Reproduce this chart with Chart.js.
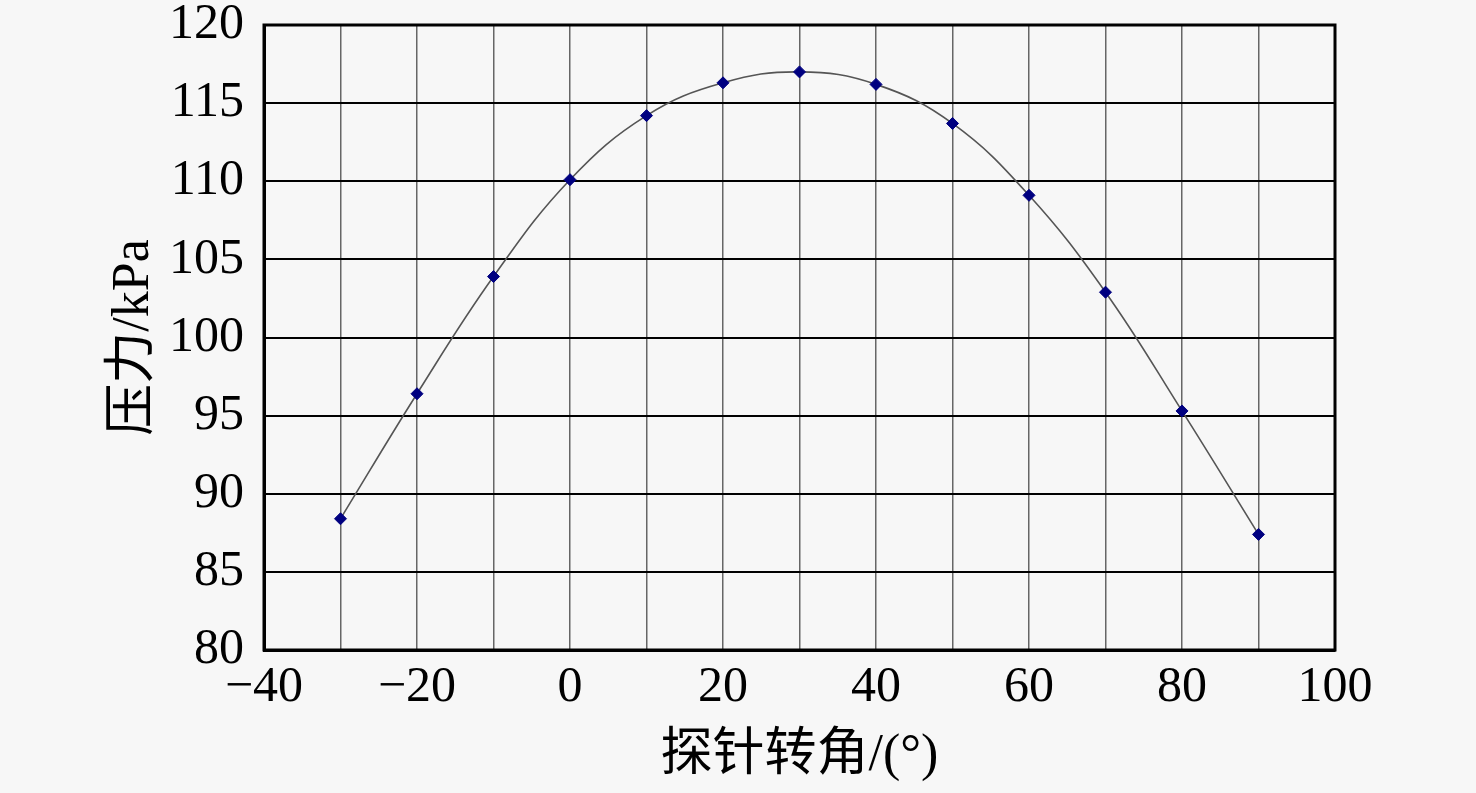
<!DOCTYPE html>
<html>
<head>
<meta charset="utf-8">
<script src="https://cdn.jsdelivr.net/npm/chart.js@4.4.0/dist/chart.umd.min.js"></script>
<style>
  body { margin: 0; background: #f7f7f7; }
  #wrap { width: 1476px; height: 793px; position: relative; }
</style>
</head>
<body>
<div id="wrap"><canvas id="grafico_pressao"></canvas></div>
<script>
// dados
const angulos = [-30, -20, -10, 0, 10, 20, 30, 40, 50, 60, 70, 80, 90]
const pressoes = [88.4, 96.4, 103.9, 110.1, 114.2, 116.3, 117.0, 116.2, 113.7, 109.1, 102.9, 95.3, 87.4]
const ticksX = [-40, -20, 0, 20, 40, 60, 80, 100]
const ticksY = [80, 85, 90, 95, 100, 105, 110, 115, 120]

const fonteNum = "'Liberation Serif', 'Times New Roman', serif"
const fonteTitulo = "'Liberation Serif', 'Noto Sans CJK SC', serif"

// moldura preta em volta da area do grafico
const moldura = {
    id: 'moldura',
    afterDraw(chart) {
        const { ctx, chartArea: a } = chart
        ctx.save()
        ctx.strokeStyle = '#000'
        ctx.lineWidth = 3
        ctx.strokeRect(a.left, a.top, a.right - a.left, a.bottom - a.top)
        ctx.restore()
    }
}

const prepararDados = () => {
    const data = angulos.map((a, i) => ({ x: a, y: pressoes[i] }))
    return {
        datasets: [{
            label: '',
            data,
            borderColor: '#555',
            borderWidth: 1.6,
            tension: 0.4,
            pointStyle: 'rectRot',
            pointRadius: 6,
            pointBackgroundColor: '#000080',
            pointBorderColor: '#000080',
            pointBorderWidth: 1
        }]
    }
}

const criarGrafico = () => {
    const ctx = document.querySelector('#grafico_pressao')

    new Chart(ctx, {
        type: 'line',
        data: prepararDados(),
        plugins: [moldura],
        options: {
            responsive: true,
            maintainAspectRatio: false,
            animation: false,
            layout: { padding: { top: 25, right: 141, left: 0, bottom: 0 } },
            plugins: {
                legend: { display: false },
                tooltip: { enabled: false }
            },
            scales: {
                x: {
                    type: 'linear',
                    min: -40,
                    max: 100,
                    afterFit: (s) => {
                        s.height = 143
                        s.paddingLeft = 0
                        s.paddingRight = 0
                    },
                    ticks: {
                        stepSize: 10,
                        autoSkip: false,
                        maxRotation: 0,
                        padding: 8,
                        color: '#000',
                        font: { family: fonteNum, size: 50 },
                        callback: (v) => ticksX.includes(v) ? String(v).replace('-', '\u2212') : ''
                    },
                    grid: { color: '#666', lineWidth: 1.5, drawTicks: false },
                    border: { display: true, color: '#000', width: 3 },
                    title: {
                        display: true,
                        text: '探针转角/(°)',
                        color: '#000',
                        font: { family: fonteTitulo, size: 52 },
                        padding: { top: 0, bottom: 5 }
                    }
                },
                y: {
                    min: 80,
                    max: 120,
                    afterFit: (s) => {
                        s.width = 264
                        s.paddingTop = 0
                        s.paddingBottom = 0
                    },
                    afterBuildTicks: (s) => { s.ticks = ticksY.map(v => ({ value: v })) },
                    ticks: {
                        padding: 20,
                        color: '#000',
                        font: { family: fonteNum, size: 50 }
                    },
                    grid: { color: '#000', lineWidth: 2, drawTicks: false },
                    border: { display: true, color: '#000', width: 3 },
                    title: {
                        display: true,
                        text: '压力/kPa',
                        color: '#000',
                        font: { family: fonteTitulo, size: 52 },
                        padding: { top: 103, bottom: 0 }
                    }
                }
            }
        }
    })
}

criarGrafico()
</script>
</body>
</html>
